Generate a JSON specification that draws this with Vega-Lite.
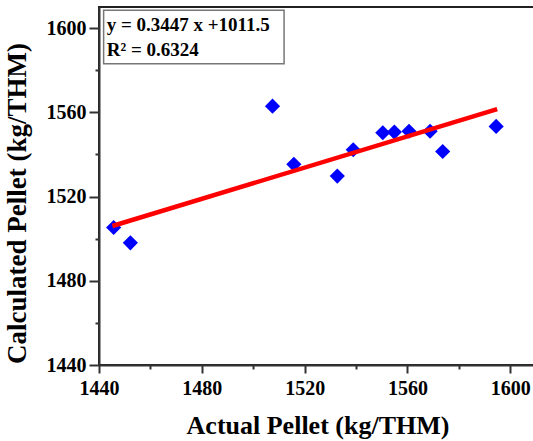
{
  "$schema": "https://vega.github.io/schema/vega-lite/v6.json",
  "width": 437,
  "height": 358,
  "autosize": "none",
  "padding": {"left": 99, "top": 7, "right": 0, "bottom": 76},
  "background": "white",
  "config": {
    "view": {"stroke": "#222", "strokeWidth": 2},
    "axis": {
      "grid": false,
      "domainColor": "#333",
      "domainWidth": 2,
      "tickColor": "#333",
      "tickWidth": 2,
      "tickSize": 7,
      "labelFont": "Liberation Serif",
      "labelFontWeight": "bold",
      "labelFontSize": 20,
      "labelColor": "black",
      "titleFont": "Liberation Serif",
      "titleFontWeight": "bold",
      "titleFontSize": 26,
      "titleColor": "black"
    }
  },
  "resolve": {"axis": {"x": "independent", "y": "independent"}},
  "layer": [
    {
      "data": {"values": [{"x1": 1441.8, "x2": 1512.0, "y1": 1583.0, "y2": 1608.4}]},
      "mark": {"type": "rect", "fill": "white", "stroke": "#777", "strokeWidth": 1.5},
      "encoding": {
        "x": {"field": "x1", "type": "quantitative", "scale": {"domain": [1440, 1610], "nice": false, "zero": false},
          "axis": {"orient": "bottom", "values": [1440, 1480, 1520, 1560, 1600], "format": "d", "title": "Actual Pellet (kg/THM)", "tickSize": 8, "labelPadding": 5, "titlePadding": 14, "labelFlush": false}},
        "x2": {"field": "x2"},
        "y": {"field": "y1", "type": "quantitative", "scale": {"domain": [1440, 1610], "nice": false, "zero": false},
          "axis": {"orient": "left", "values": [1440, 1480, 1520, 1560, 1600], "format": "d", "title": "Calculated Pellet (kg/THM)", "titleFontSize": 27, "titleY": 196, "tickSize": 10, "labelPadding": 3, "titlePadding": 15, "labelFlush": false}},
        "y2": {"field": "y2"}
      }
    },
    {
      "data": {"values": [
        {"actual": 1445.7, "calc": 1505.3},
        {"actual": 1452.2, "calc": 1498.0},
        {"actual": 1507.5, "calc": 1562.9},
        {"actual": 1515.8, "calc": 1535.3},
        {"actual": 1532.7, "calc": 1529.7},
        {"actual": 1538.9, "calc": 1542.2},
        {"actual": 1550.4, "calc": 1550.3},
        {"actual": 1554.9, "calc": 1550.6},
        {"actual": 1560.6, "calc": 1551.0},
        {"actual": 1568.8, "calc": 1551.0},
        {"actual": 1573.7, "calc": 1541.4},
        {"actual": 1594.5, "calc": 1553.3}
      ]},
      "mark": {"type": "point", "shape": "diamond", "filled": true, "color": "#0000FF", "opacity": 1, "size": 230},
      "encoding": {
        "x": {"field": "actual", "type": "quantitative",
          "axis": {"orient": "bottom", "values": [1460, 1500, 1540, 1580], "labels": false, "domain": false, "tickSize": 4, "title": null}},
        "y": {"field": "calc", "type": "quantitative",
          "axis": {"orient": "left", "values": [1460, 1500, 1540, 1580], "labels": false, "domain": false, "tickSize": 4, "title": null}}
      }
    },
    {
      "data": {"values": [{"actual": 1445.2, "calc": 1506.0}, {"actual": 1594.9, "calc": 1561.5}]},
      "mark": {"type": "line", "color": "#FF0000", "strokeWidth": 4.5},
      "encoding": {
        "x": {"field": "actual", "type": "quantitative", "axis": null},
        "y": {"field": "calc", "type": "quantitative", "axis": null}
      }
    },
    {
      "data": {"values": [
        {"label": "y = 0.3447 x +1011.5", "tx": 1443.0, "ty": 1598.5},
        {"label": "R² = 0.6324", "tx": 1443.0, "ty": 1586.7}
      ]},
      "mark": {"type": "text", "align": "left", "baseline": "alphabetic", "font": "Liberation Serif", "fontWeight": "bold", "fontSize": 19, "color": "black"},
      "encoding": {
        "x": {"field": "tx", "type": "quantitative", "axis": null},
        "y": {"field": "ty", "type": "quantitative", "axis": null},
        "text": {"field": "label"}
      }
    }
  ]
}
